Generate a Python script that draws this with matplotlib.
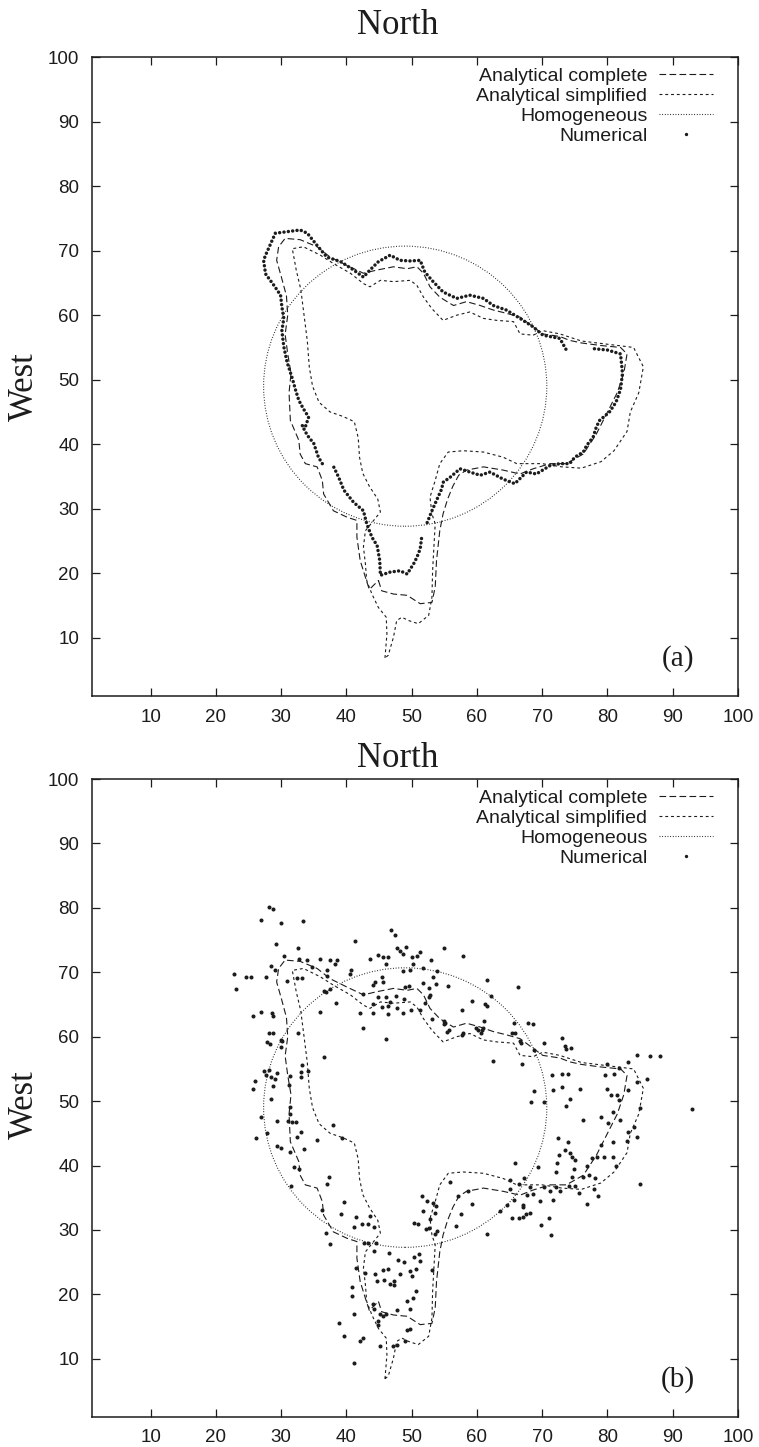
import numpy as np
import matplotlib
matplotlib.use('Agg')
from matplotlib import pyplot as plt
from matplotlib.patches import Circle
from matplotlib.lines import Line2D

# analytical complete front (same in both panels)
ac_x = [44.9, 45.4, 47.2, 49.3, 51.3, 53.1, 53.6, 53.8, 54.3, 54.8, 55.5, 56.3, 57.2, 58.4, 61.0, 64.0, 66.6, 68.6,
        71.2, 73.7, 76.3, 78.3, 80.0, 81.5, 82.5, 83.0, 82.0, 79.0, 76.0, 74.2, 72.7, 70.1, 68.6, 66.6, 64.5, 62.5,
        60.5, 58.4, 56.4, 54.3, 52.8, 51.8, 50.8, 49.3, 47.2, 44.7, 42.6, 40.1, 37.5, 35.5, 32.9, 30.6, 29.6, 29.3,
        30.0, 30.8, 31.0, 30.6, 31.0, 31.5, 31.2, 31.4, 32.7, 32.9, 33.7, 35.5, 36.3, 36.5, 38.0, 40.1, 41.6, 41.6,
        42.1, 42.9, 43.5, 44.9]
ac_y = [18.9, 17.3, 16.8, 16.6, 15.3, 15.5, 17.9, 22.0, 26.6, 29.2, 31.5, 33.5, 35.2, 36.0, 36.5, 36.0, 35.4, 36.2,
        37.0, 37.0, 38.5, 41.6, 45.0, 48.0, 51.0, 54.0, 55.0, 55.3, 55.7, 56.1, 56.7, 57.1, 58.2, 59.7, 60.3, 60.8,
        61.5, 62.1, 61.5, 62.8, 64.4, 66.5, 67.5, 67.2, 67.5, 67.0, 66.5, 67.7, 69.0, 70.6, 71.7, 71.9, 70.6, 68.5,
        66.0, 63.0, 60.0, 57.0, 54.0, 51.0, 48.0, 43.7, 40.6, 38.5, 37.0, 36.5, 34.4, 32.3, 29.7, 28.7, 28.2, 25.6,
        22.0, 19.4, 17.5, 18.9]

# analytical simplified front
as_x = [45.9, 46.2, 46.1, 44.9, 43.9, 43.1, 42.9, 42.6, 42.9, 44.4, 45.2, 44.8, 43.5, 42.5, 42.0, 41.8, 41.2, 39.5,
        37.5, 35.8, 34.8, 34.3, 34.0, 33.5, 33.0, 32.3, 31.7, 33.4, 36.0, 38.0, 40.6, 42.6, 43.6, 45.2, 47.2, 49.8,
        50.8, 51.8, 53.1, 54.8, 56.9, 58.9, 61.0, 63.0, 65.6, 66.6, 68.6, 70.1, 72.7, 76.0, 80.0, 84.0, 85.5, 84.8,
        83.5, 83.0, 81.0, 79.0, 76.0, 73.0, 70.0, 66.1, 64.0, 61.0, 57.9, 55.6, 54.3, 53.6, 52.8, 53.1, 53.6, 53.4,
        53.2, 53.1, 52.6, 51.0, 49.5, 48.5, 47.7, 47.2, 46.4, 45.9]
as_y = [6.9, 10.6, 13.2, 14.7, 16.8, 18.9, 21.5, 24.1, 26.6, 28.5, 29.5, 31.5, 33.5, 35.5, 38.0, 41.0, 43.5, 44.3,
        45.0, 46.5, 49.0, 52.0, 56.0, 60.0, 64.0, 67.0, 70.3, 70.6, 69.3, 68.0, 66.5, 64.9, 64.4, 65.4, 65.2, 65.4,
        64.6, 62.8, 61.0, 59.2, 60.0, 60.5, 59.5, 59.2, 59.0, 57.1, 56.9, 57.6, 57.1, 56.0, 55.5, 55.0, 52.0, 48.0,
        45.0, 42.0, 39.0, 37.3, 36.3, 36.5, 37.0, 37.0, 38.0, 38.8, 39.0, 38.8, 37.0, 34.4, 31.8, 29.2, 27.7, 24.1,
        20.4, 16.3, 13.5, 12.2, 12.7, 13.2, 12.7, 10.1, 7.3, 6.9]

# homogeneous front: circle
hom_center = (49.0, 49.0)
hom_radius = 21.7

# numerical front, panel (a) (nan = gap)
num_a_x = [51.5, 51.3, 50.8, 50.3, 49.3, 48.2, 46.7, 45.2, 45.1, 44.7, 43.9, 43.1, 42.6, 41.1, 39.6, 38.8, 37.8, np.nan,
           36.3, 35.7, 35.0, 34.0, 33.2, 33.7, 34.2, 33.4, 32.7, 32.2, 31.7, 30.9, 30.4, 30.1, 30.4, 30.1, 29.9, 28.9,
           27.6, 27.3, 27.6, 29.1, 32.9, 34.0, 35.5, 37.0, 39.1, 41.1, 42.6, 43.6, 44.9, 46.7, 48.2, 49.8, 51.3, 52.0,
           53.1, 54.8, 56.9, 58.9, 61.0, 62.5, 64.5, 66.6, 68.6, 70.1, 72.7, 73.7, np.nan,
           78.0, 80.0, 82.0, 82.3, 82.0, 81.3, 80.3, 78.8, 78.3, 77.8, 76.8, 76.3, 75.0, 74.2, 72.7, 71.2, 69.1, 67.6,
           66.8, 65.8, 64.0, 62.0, 60.5, 58.9, 57.4, 55.9, 54.8, 54.6, 53.8, 53.1, 52.3]
num_a_y = [25.4, 23.8, 22.5, 21.5, 19.9, 20.4, 20.2, 19.7, 22.0, 24.3, 25.6, 27.7, 29.7, 31.0, 32.9, 34.9, 37.0, np.nan,
           37.0, 38.0, 40.1, 41.4, 42.9, 42.7, 44.2, 45.5, 46.8, 48.4, 50.2, 52.7, 55.1, 57.6, 59.5, 61.3, 63.1, 64.6,
           66.4, 68.5, 69.3, 72.7, 73.2, 72.7, 70.8, 69.0, 68.3, 67.0, 65.9, 67.0, 68.3, 69.3, 68.5, 68.4, 68.5, 66.7,
           65.4, 63.6, 62.6, 63.1, 62.6, 61.5, 60.8, 59.5, 58.2, 56.9, 56.4, 54.6, np.nan,
           54.8, 54.6, 54.0, 51.0, 48.5, 46.5, 45.0, 43.7, 42.7, 41.1, 39.8, 38.8, 38.0, 37.0, 37.0, 36.7, 35.4, 35.7,
           34.9, 33.9, 34.6, 35.7, 35.2, 35.7, 36.2, 34.9, 34.1, 33.1, 31.3, 29.7, 27.7]

# numerical front, panel (b): scattered points
num_b_x = [28.1, 28.7, 26.9, 30.0, 33.3, 29.2, 32.6, 41.3, 46.8, 47.5, 30.5, 28.4, 29.1, 32.8, 33.9, 36.0, 37.5, 38.6,
           38.2, 22.7, 24.6, 25.4, 27.7, 32.4, 33.2, 30.9, 23.0, 37.0, 37.0, 40.7, 40.6, 34.7, 43.6, 44.9, 45.6, 46.3,
           46.0, 47.7, 49.1, 48.2, 48.7, 50.0, 50.8, 51.3, 53.0, 50.2, 51.7, 48.7, 49.8, 54.9, 57.8, 53.8, 44.4, 45.4,
           44.1, 45.6, 49.0, 49.6, 51.8, 52.7, 53.2, 53.7, 55.5, 52.8, 52.6, 42.6, 44.1, 44.9, 46.0, 46.7, 47.6, 48.8,
           45.4, 46.4, 47.7, 42.0, 44.0, 46.4, 48.7, 49.9, 38.4, 36.0, 26.9, 25.7, 28.6, 28.7, 36.5, 36.9, 37.5, 42.5,
           46.0, 51.2, 52.1, 53.1, 54.9, 55.7, 55.1, 57.7, 59.2, 61.3, 61.5, 62.2, 61.6, 66.3, 61.1, 61.0, 59.9, 57.9,
           57.7, 65.6, 65.8, 67.8, 68.6, 70.3, 73.0, 73.5, 74.4, 73.7, 66.7, 68.8, 28.2, 28.8, 28.3, 27.8, 32.6, 30.1,
           29.9, 30.0, 54.9, 55.4, 60.8, 60.6, 60.2, 65.4, 66.6,
           36.5, 27.3, 28.1, 27.6, 28.4, 29.1, 31.3, 29.4, 26.0, 25.6, 28.8, 31.2, 33.0, 34.1, 33.2, 33.0, 28.5, 31.4,
           31.3, 29.3, 31.0, 31.7, 32.3, 33.0, 32.4, 26.9, 26.2, 27.8, 29.3, 30.0, 31.3, 33.5, 31.9, 32.7, 31.5, 37.3,
           37.0, 35.5, 38.0, 39.3, 39.6, 36.3, 39.2, 41.5, 43.6, 43.3, 41.1, 42.4, 44.2, 44.6, 43.3, 42.7, 36.8, 37.4,
           44.2, 47.9, 46.5, 48.8, 50.3, 51.2, 51.1, 53.1, 41.4, 42.9, 44.3, 45.6, 46.3, 44.7, 45.7, 46.6, 47.3, 47.3,
           48.2, 49.8, 50.7, 50.0, 49.3, 50.2, 50.7, 40.9, 40.9, 41.2, 47.7, 49.8, 44.0, 44.2, 45.2, 45.6, 46.1, 44.9,
           44.9, 38.8, 39.6, 42.0, 42.6, 45.2, 47.2, 47.7, 48.9, 49.3, 49.7, 51.6, 52.3, 51.8, 53.3, 53.7, 53.5, 52.8,
           52.2, 52.6, 53.9, 53.6, 50.3, 50.9, 55.9, 57.1, 57.6, 56.8, 59.2, 58.6, 61.6, 62.5, 66.9, 71.5, 73.0, 73.9,
           71.7, 73.1, 75.8, 68.7, 68.3, 70.2, 73.7, 74.3, 76.2, 79.0, 79.9, 81.7, 83.1, 81.0, 79.6, 80.0, 80.6, 81.4,
           81.8, 83.2, 80.9, 80.1, 81.9, 83.1, 80.9, 83.0, 79.0, 78.4, 79.4, 80.9, 77.6, 76.9, 74.8, 74.5, 75.0, 76.3,
           77.2, 78.1, 75.7, 76.8, 78.0, 78.6, 81.3, 72.4, 74.0, 73.5, 74.2, 74.6, 75.0, 72.5, 72.2, 72.1, 69.4, 65.9,
           65.0, 66.5, 68.2, 69.6, 68.6, 67.6, 72.1, 71.2, 71.7, 72.7, 74.1, 65.1, 65.6, 64.6, 67.1, 67.0, 67.5, 68.2,
           67.1, 66.4, 65.3, 63.5, 71.1, 69.8, 71.4, 67.2, 70.3,
           84.5, 86.5, 88.0, 93.0, 86.0, 85.0, 84.5, 85.0, 84.0, 84.5, 41.2]
num_b_y = [80.2, 79.9, 78.1, 77.7, 77.9, 74.4, 73.8, 74.8, 76.6, 75.8, 72.5, 71.0, 70.4, 72.1, 71.9, 72.1, 71.9, 71.9,
           71.3, 69.7, 69.2, 69.2, 69.3, 69.1, 69.1, 68.7, 67.4, 70.3, 69.5, 70.4, 69.8, 70.8, 72.1, 72.7, 72.3, 72.3,
           71.3, 73.8, 74.0, 73.3, 72.9, 72.3, 72.6, 73.1, 71.9, 71.3, 70.6, 70.2, 70.3, 73.7, 72.6, 70.2, 68.5, 69.3,
           68.1, 68.5, 67.7, 67.9, 68.3, 67.5, 69.2, 68.2, 67.9, 66.4, 66.2, 66.6, 65.1, 66.1, 66.2, 65.4, 66.3, 65.9,
           64.6, 64.8, 64.5, 63.7, 63.7, 63.5, 63.7, 64.2, 65.3, 63.8, 63.8, 63.2, 63.7, 63.2, 67.1, 66.9, 67.4, 61.4,
           59.6, 64.1, 65.2, 62.8, 62.5, 61.1, 62.1, 64.1, 65.6, 65.1, 64.7, 66.3, 68.8, 67.7, 62.5, 61.3, 61.3, 60.6,
           60.2, 62.1, 60.6, 62.1, 61.9, 59.0, 59.8, 58.5, 58.2, 58.1, 59.1, 58.0, 60.6, 60.6, 58.9, 59.2, 60.6, 59.4,
           59.5, 58.4, 62.0, 60.7, 61.0, 60.6, 61.1, 60.6, 59.4,
           56.9, 54.7, 54.8, 54.0, 53.8, 53.5, 53.9, 54.3, 53.2, 51.9, 52.3, 52.5, 54.5, 54.7, 55.6, 53.8, 50.4, 49.1,
           48.0, 46.9, 46.9, 46.8, 46.8, 45.2, 44.4, 47.5, 44.3, 45.0, 43.1, 42.8, 42.1, 42.5, 39.7, 39.5, 36.9, 38.2,
           37.1, 44.0, 46.3, 44.2, 34.3, 33.1, 32.4, 32.0, 32.1, 31.0, 30.5, 31.0, 30.5, 27.9, 27.9, 27.9, 29.5, 27.8,
           26.7, 25.4, 26.4, 25.0, 25.8, 25.2, 26.3, 23.8, 24.1, 23.3, 23.1, 23.8, 24.0, 22.1, 22.2, 21.6, 22.1, 21.5,
           23.1, 23.7, 24.0, 22.9, 18.9, 19.5, 20.5, 21.2, 19.7, 16.9, 17.6, 17.7, 18.5, 17.8, 17.0, 16.7, 17.0, 15.9,
           15.2, 15.5, 13.5, 12.7, 13.3, 12.0, 12.0, 12.2, 12.7, 14.4, 14.6, 35.3, 34.5, 32.9, 34.2, 33.7, 32.6, 31.7,
           30.2, 30.3, 29.9, 29.4, 31.1, 30.9, 37.5, 35.3, 32.4, 30.6, 34.1, 36.1, 29.4, 56.3, 55.8, 54.0, 54.2, 54.2,
           51.7, 52.2, 51.9, 51.6, 49.9, 49.9, 49.2, 50.3, 47.1, 47.6, 55.8, 55.1, 56.1, 54.2, 54.0, 51.9, 50.9, 50.9,
           50.1, 51.8, 48.3, 46.6, 47.0, 45.2, 43.7, 43.8, 43.2, 41.3, 41.3, 41.3, 41.2, 40.0, 39.5, 38.2, 36.9, 38.2,
           38.5, 38.1, 35.7, 34.1, 36.4, 35.2, 39.9, 44.2, 43.7, 42.4, 41.9, 41.4, 40.8, 41.6, 40.4, 39.0, 39.8, 40.4,
           37.8, 37.2, 36.6, 34.5, 35.6, 35.4, 36.7, 36.1, 34.6, 36.1, 36.9, 36.4, 34.6, 33.8, 33.8, 33.6, 32.5, 32.6,
           32.0, 31.9, 31.9, 33.0, 31.9, 30.8, 29.2, 38.1, 36.7,
           57.2, 57.0, 57.0, 48.8, 53.5, 49.0, 44.5, 37.2, 46.0, 53.0, 9.3]

legend_labels = ['Analytical complete', 'Analytical simplified', 'Homogeneous', 'Numerical']
ticks = [10, 20, 30, 40, 50, 60, 70, 80, 90, 100]

ink = '#1c1c1c'
serif = ['Liberation Serif', 'DejaVu Serif']
sans = ['Liberation Sans', 'DejaVu Sans']
plt.rcParams['font.family'] = sans

ac_style = dict(color=ink, lw=0.8, ls=(0, (6, 3)))
as_style = dict(color=ink, lw=0.8, ls=(0, (2.6, 2.6)))
hom_style = dict(color=ink, lw=0.8, ls=(0, (0.8, 1.6)))

fig = plt.figure(figsize=(7.59, 14.47), dpi=100)
ax_a = fig.add_axes([0.1212, 0.519, 0.8511, 0.4416])
ax_b = fig.add_axes([0.1212, 0.0209, 0.8511, 0.4407])


def draw_front(ax, panel):
    ax.plot(ac_x, ac_y, **ac_style)
    ax.plot(as_x, as_y, **as_style)
    ax.add_patch(Circle(hom_center, hom_radius, fill=False, **hom_style))
    if panel == 'a':
        # chain of dots
        ax.plot(num_a_x, num_a_y, color=ink, lw=2.5, ls=(0, (0.01, 1.25)), dash_capstyle='round')
    else:
        ax.plot(num_b_x, num_b_y, ls='none', marker='o', ms=1.9, color=ink)

    handles = [Line2D([], [], **ac_style), Line2D([], [], **as_style), Line2D([], [], **hom_style),
               Line2D([], [], ls='none', marker='o', ms=1.4, color=ink)]
    ax.legend(handles, legend_labels, loc='upper right', bbox_to_anchor=(0.962, 0.984), markerfirst=False,
              frameon=False, fontsize=14, handlelength=2.8, handletextpad=0.6, labelspacing=0.13,
              borderpad=0, borderaxespad=0, labelcolor=ink)

    ax.set_xlim(1, 100)
    ax.set_ylim(1, 100)
    ax.set_xticks(ticks)
    ax.set_yticks(ticks)
    ax.tick_params(direction='in', top=True, right=True, length=5.5, width=0.9, labelsize=13.5,
                   colors=ink, pad=9)
    for s in ax.spines.values():
        s.set_linewidth(1.1)
        s.set_color(ink)
    ax.text(90.8, 6.8, '(' + panel + ')', ha='center', va='center', fontsize=21, family=serif, color=ink)


draw_front(ax_a, 'a')
draw_front(ax_b, 'b')

fig.text(398 / 759, 1 - 26 / 1447, 'North', ha='center', va='center', fontsize=25, family=serif, color=ink)
fig.text(398 / 759, 1 - 759 / 1447, 'North', ha='center', va='center', fontsize=25, family=serif, color=ink)
fig.text(24 / 759, 1 - 387 / 1447, 'West', ha='center', va='center', rotation=90, fontsize=25, family=serif,
         color=ink)
fig.text(24 / 759, 1 - 1105 / 1447, 'West', ha='center', va='center', rotation=90, fontsize=25, family=serif,
         color=ink)

fig.savefig('out.png', dpi=100)
